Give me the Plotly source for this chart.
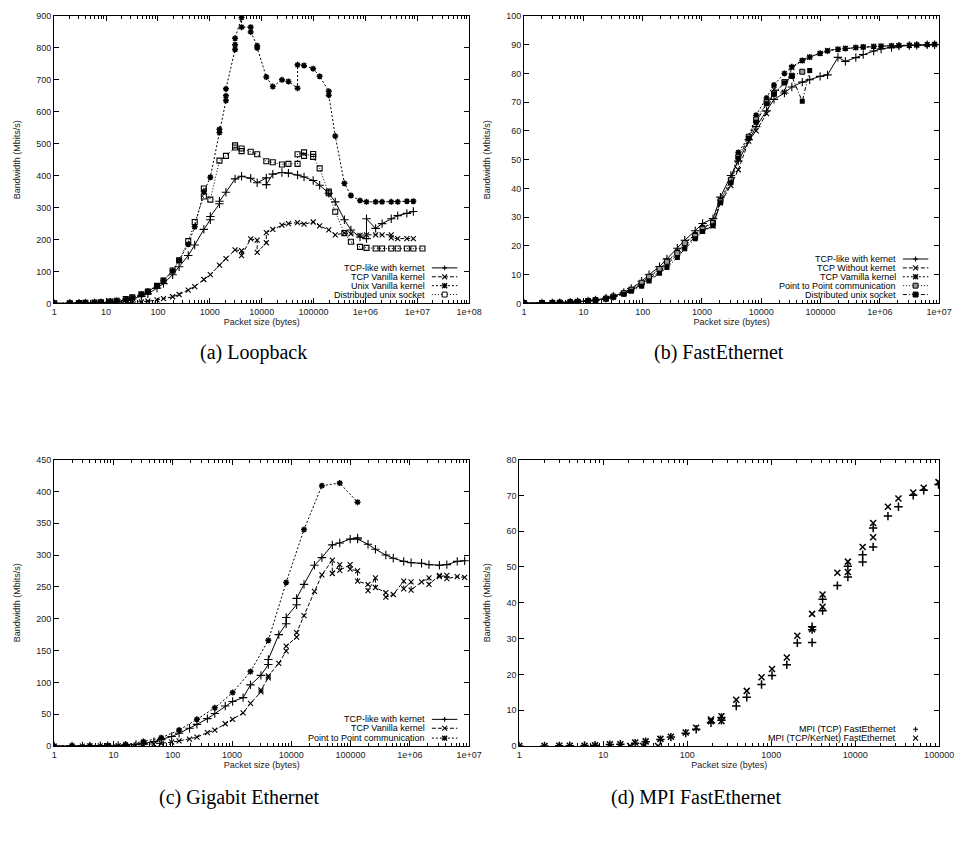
import plotly.graph_objects as go

W, H = 969, 844
OFF = 8  # page body margin
FW, FH = W - 2 * OFF, H - 2 * OFF

# ---------------- data ----------------
# (a) Loopback
a_tcplike_x = [1,2,3,4,6,8,12,16,24,32,48,64,96,128,192,256,384,512,768,1024,1024,1536,1536,2048,3072,4096,6144,8192,12288,12288,16384,24576,32768,49152,65536,98304,131072,196608,262144,393216,524288,786432,1048576,1048576,1572864,2097152,3145728,4194304,6291456,8388608]
a_tcplike_y = [0.3,0.6,0.9,1.2,1.8,2.5,4,5.5,9,14,22,30,48,62,90,115,150,183,232,262,272,312,320,348,390,398,392,378,393,372,405,410,408,402,396,385,370,345,318,262,230,208,203,265,235,250,265,275,282,288]

a_vanilla_x = [1,2,3,4,6,8,12,16,24,32,48,64,96,128,192,256,384,512,768,1024,1536,2048,3072,4096,4096,6144,8192,8192,12288,12288,16384,24576,32768,49152,65536,98304,131072,196608,262144,393216,524288,786432,1048576,1572864,2097152,3145728,3145728,4194304,6291456,8388608]
a_vanilla_y = [0,0,0.1,0.2,0.4,0.6,1,1.5,2.5,3.5,5,7,11,15,21,28,42,53,75,90,120,140,168,165,150,202,198,160,190,222,232,245,250,253,248,255,243,230,215,220,218,213,215,215,215,215,205,203,203,203]

a_unix_x = [1,2,3,4,6,8,12,16,24,32,48,64,96,128,192,256,384,512,768,1024,1536,1536,2048,2048,2048,3072,3072,3072,4096,4096,6144,6144,8192,8192,12288,16384,24576,32768,49152,49152,65536,98304,131072,196608,196608,262144,393216,524288,786432,1048576,1572864,2097152,3145728,4194304,6291456,8388608]
a_unix_y = [0.3,0.8,1.2,1.6,2.5,3.5,5.5,8,13,18,28,38,55,72,102,135,185,240,350,395,535,545,635,650,672,795,810,830,895,865,865,850,807,800,709,679,700,695,674,747,745,735,711,664,652,524,376,338,322,318,318,318,318,318,320,320]

a_dist_x = [1,2,3,4,6,8,12,16,24,32,48,64,96,128,192,256,384,512,768,768,1024,1536,2048,3072,3072,4096,4096,6144,8192,12288,16384,24576,32768,49152,49152,65536,65536,98304,98304,131072,196608,196608,262144,393216,524288,786432,1048576,1572864,2097152,3145728,4194304,6291456,8388608,12582912]
a_dist_y = [0.3,0.8,1.2,1.7,2.6,3.8,6,8.5,14,19,29,37,55,72,103,135,195,255,335,360,325,447,462,488,495,477,485,475,467,445,442,435,437,437,467,473,462,468,459,423,350,345,287,220,193,177,174,172,172,172,172,172,172,172]

# (b) FastEthernet
sizes = [1,2,3,4,6,8,12,16,24,32,48,64,96,128,192,256,384,512,768,1024,1536,2048,3072,4096,6144,8192,12288,16384,24576,32768,49152,65536,98304,131072,196608,262144,393216,524288,786432,1048576,1572864,2097152,3145728,4194304,6291456,8388608]
b_tcplike_y = [0.1,0.15,0.2,0.3,0.45,0.6,0.9,1.2,1.8,2.5,3.8,5.2,7.7,10,12.8,15.5,19.2,22,25.3,27.8,29.5,37,44.5,49.5,57,61.5,67,71,73.2,75.3,77,77.8,79,79.5,85.6,84.2,85.5,86.6,87.8,88.5,89,89.5,89.7,89.8,90,90]
b_without_y = [0.1,0.15,0.2,0.3,0.4,0.55,0.8,1.1,1.6,2.2,3.3,4.5,6.5,8.5,11,13.5,17,20,23,25.5,27,35,41,46.5,56.5,60,66,74.5,73.5,82,84.5,85.7,87,88,88.5,88.7,89,89.2,89.4,89.5,89.6,89.7,89.8,89.9,90,90]
b_vamilla_y = [0.1,0.15,0.2,0.3,0.45,0.6,0.85,1.15,1.7,2.4,3.5,4.8,7,9.2,11.8,14.5,18,21,24,26.5,28,36,43,52.5,58,65.5,71.5,76,80,82.3,84.5,85.7,87,87.8,88.4,88.7,89,89.2,89.4,89.5,89.6,89.7,89.8,89.9,90,90.2]
b_p2p_x = sizes[:31]
b_p2p_y = [0.1,0.15,0.2,0.3,0.45,0.6,0.85,1.2,1.7,2.4,3.6,4.8,7.2,9.3,12,14.5,17.5,21,23.5,26,28,35.5,43,51,58,64,70,73,77,79.2,80.6]
b_dist_x = sizes[:32]
b_dist_y = [0.1,0.15,0.2,0.3,0.4,0.55,0.8,1.1,1.6,2.2,3.2,4.2,6,7.8,10.5,12.5,16,19,22.5,25,27,35,42,50.5,57.5,63,69.5,72.8,76.7,79,70.3,81]

# (c) Gigabit Ethernet
c_tcplike_x = [1,2,3,4,6,8,12,16,24,32,48,64,96,128,192,256,384,512,768,1024,1536,2048,3072,4096,4096,6144,8192,8192,12288,12288,16384,24576,32768,49152,65536,98304,131072,131072,196608,262144,393216,524288,786432,1048576,1572864,2097152,3145728,4194304,6291456,8388608]
c_tcplike_y = [0,0,0.1,0.2,0.4,0.6,1,1.5,2.5,4,7,10,15,20,28,34,43,51,63,70,76,96,111,128,136,175,192,202,222,232,254,284,296,316,319,325,327,325,317,309,300,295,290,288,287,285,284,285,290,291]

c_vanilla_x = [1,2,3,4,6,8,12,16,24,32,48,64,96,128,192,256,384,512,768,1024,1536,2048,3072,3072,4096,4096,6144,8192,8192,12288,12288,16384,24576,32768,49152,49152,65536,65536,98304,98304,131072,131072,196608,196608,262144,262144,393216,393216,524288,786432,786432,1048576,1048576,1572864,2097152,2097152,3145728,3145728,4194304,4194304,6291456,8388608]
c_vanilla_y = [0,0,0,0.1,0.2,0.3,0.5,0.8,1.2,2,3,4,6,8,11,14,21,25,35,42,52,67,85,88,107,110,130,149,157,171,178,205,243,269,292,271,285,276,285,278,275,259,254,244,264,249,241,234,238,259,247,258,245,258,264,254,268,266,268,263,266,265]

c_p2p_x = [1,2,4,8,16,32,64,128,256,512,1024,2048,4096,8192,16384,32768,65536,131072]
c_p2p_y = [0,0.1,0.3,0.8,2.5,7,13,25,42,60,84,117,166,257,340,409,413,383]

# (d) MPI FastEthernet
d_tcp_x = [1,2,3,4,6,8,12,16,24,32,48,64,96,128,192,256,256,384,512,768,1024,1536,2048,3072,3072,3072,4096,4096,6144,8192,8192,12288,12288,16384,16384,24576,32768,49152,65536,98304]
d_tcp_y = [0,0,0.05,0.1,0.15,0.25,0.4,0.5,0.8,1.2,1.8,2.5,3.6,4.7,6.5,7.2,8.0,11.2,13.6,17.2,19.7,22.7,28.8,28.9,32.5,33.3,37.8,41.0,44.8,47.2,50.2,51.4,53.4,55.6,60.9,64.2,66.8,70.0,71.4,73.0]
d_kernet_x = [1,2,3,4,6,8,12,16,21,24,30,32,45,48,64,96,128,192,192,256,256,384,512,768,1024,1536,2048,3072,3072,4096,4096,6144,8192,8192,12288,16384,16384,24576,32768,49152,65536,98304]
d_kernet_y = [0,0,0.1,0.1,0.1,0.2,0.5,0.5,0,1.0,0,1.3,0,2.0,2.6,3.8,5.1,6.9,7.4,7.0,8.3,12.9,15.4,19.2,21.5,24.7,30.8,32.6,36.9,38.9,42.3,48.4,48.6,51.5,55.6,58.3,62.3,66.8,69.1,70.8,72.1,73.7]

tick_labels = ["1","10","100","1000","10000","100000","1e+06","1e+07","1e+08"]
tick_vals = [1,10,100,1000,10000,100000,1e6,1e7,1e8]

# ---------------- styles ----------------
DASH = {"solid": "solid", "dash": "4px,2px", "dot": "2px,2px", "fdot": "1px,2px", "dashdot": "4px,2px,1px,2px"}
MK = {
    "plus": dict(symbol="cross-thin-open", size=6, color="black", line=dict(width=1.1, color="black")),
    "x": dict(symbol="x-thin-open", size=5, color="black", line=dict(width=1.1, color="black")),
    "star": dict(symbol="asterisk-open", size=5, color="black", line=dict(width=1.5, color="black")),
    "sqo": dict(symbol="square-open", size=5, color="black", line=dict(width=1.1, color="black")),
    "sqf": dict(symbol="square", size=5, color="black", line=dict(width=0, color="black")),
    "sqg": dict(symbol="square", size=5, color="#999999", line=dict(width=1, color="black")),
}

fig = go.Figure()

def add(ax, x, y, name, dash, mk, mode="lines+markers", big=False):
    m = dict(MK[mk])
    if big:
        m = dict(m, size=6, line=dict(width=1.5, color="black"))
    fig.add_trace(go.Scatter(
        x=x, y=y, name=name, mode=mode, xaxis="x" + ax, yaxis="y" + ax,
        line=dict(color="black", width=1, dash=DASH[dash]), marker=m, showlegend=False))

add("", a_tcplike_x, a_tcplike_y, "TCP-like with kernet", "solid", "plus")
add("", a_vanilla_x, a_vanilla_y, "TCP Vanilla kernel", "dash", "x")
add("", a_unix_x, a_unix_y, "Unix Vanilla kernel", "dot", "star")
add("", a_dist_x, a_dist_y, "Distributed unix socket", "fdot", "sqo")

add("2", sizes, b_tcplike_y, "TCP-like with kernet", "solid", "plus")
add("2", sizes, b_without_y, "TCP Without kernet", "dash", "x")
add("2", sizes, b_vamilla_y, "TCP Vamilla kernel", "dot", "star")
add("2", b_p2p_x, b_p2p_y, "Point to Point communication", "fdot", "sqg")
add("2", b_dist_x, b_dist_y, "Distributed unix socket", "dashdot", "sqf")

add("3", c_tcplike_x, c_tcplike_y, "TCP-like with kernet", "solid", "plus")
add("3", c_vanilla_x, c_vanilla_y, "TCP Vanilla kernel", "dash", "x")
add("3", c_p2p_x, c_p2p_y, "Point to Point communication", "dot", "star")

add("4", d_tcp_x, d_tcp_y, "MPI (TCP) FastEthernet", "solid", "plus", mode="markers", big=True)
add("4", d_kernet_x, d_kernet_y, "MPI (TCP/KerNet) FastEthernet", "solid", "x", mode="markers", big=True)

# ---------------- axes ----------------
TF = dict(family="Liberation Sans, Arial, sans-serif", size=9, color="#222")

def xax(dom, anchor, rng):
    n = rng[1] + 1
    return dict(type="log", domain=dom, anchor=anchor, range=rng,
                tickmode="array", tickvals=tick_vals[:n], ticktext=tick_labels[:n],
                showline=True, linecolor="black", linewidth=1, mirror="ticks",
                ticks="inside", ticklen=5, tickcolor="black", showgrid=False, zeroline=False,
                minor=dict(ticks="inside", ticklen=3, tickcolor="black", dtick="D1", showgrid=False),
                tickfont=TF, title=dict(text="Packet size (bytes)", font=TF, standoff=1))

def yax(dom, anchor, rng, dt):
    return dict(domain=dom, anchor=anchor, range=rng, dtick=dt, tick0=0,
                showline=True, linecolor="black", linewidth=1, mirror="ticks",
                ticks="inside", ticklen=5, tickcolor="black", showgrid=False, zeroline=False,
                tickfont=TF, title=dict(text="Bandwidth (Mbits/s)", font=TF, standoff=14))

def fx(p):
    return (p - OFF) / FW

def fy(p):
    return 1 - (p - OFF) / FH

fig.update_layout(
    width=FW, height=FH, margin=dict(l=0, r=0, t=0, b=0),
    paper_bgcolor="white", plot_bgcolor="white",
    xaxis=xax([fx(52), fx(475)], "y", [0, 8]),
    yaxis=yax([fy(302), fy(11)], "x", [0, 900], 100),
    xaxis2=xax([fx(531), fx(954)], "y2", [0, 7]),
    yaxis2=yax([fy(302), fy(11)], "x2", [0, 100], 10),
    xaxis3=xax([fx(52), fx(475)], "y3", [0, 7]),
    yaxis3=yax([fy(750), fy(460)], "x3", [0, 450], 50),
    xaxis4=xax([fx(526), fx(954)], "y4", [0, 5]),
    yaxis4=yax([fy(750), fy(460)], "x4", [0, 80], 10),
)

# ---------------- captions ----------------
CF = dict(family="Liberation Serif, serif", size=20, color="black")
captions = [("(a) Loopback", 255, 352), ("(b) FastEthernet", 730, 352),
            ("(c) Gigabit Ethernet", 240, 802), ("(d) MPI FastEthernet", 706, 802)]
for txt, cx, cy in captions:
    fig.add_annotation(x=fx(cx), y=fy(cy), xref="paper", yref="paper", text=txt,
                       showarrow=False, xanchor="center", yanchor="middle", font=CF)

# ---------------- gnuplot-style keys (text right, sample on the right) ----------------
LF = dict(family="Liberation Sans, Arial, sans-serif", size=9, color="black")

def marker_shapes(kind, cx, cy, s=2.5):
    out = []
    def seg(x0, y0, x1, y1, w=1.1):
        out.append(dict(type="line", xref="paper", yref="paper", x0=fx(x0), y0=fy(y0),
                        x1=fx(x1), y1=fy(y1), line=dict(color="black", width=w)))
    w = 1.4 if kind == "star" else 1.1
    if kind in ("plus", "star"):
        seg(cx - s, cy, cx + s, cy, w)
        seg(cx, cy - s, cx, cy + s, w)
    if kind in ("x", "star"):
        seg(cx - s, cy - s, cx + s, cy + s, w)
        seg(cx - s, cy + s, cx + s, cy - s, w)
    if kind in ("sqo", "sqf", "sqg"):
        fill = {"sqo": "white", "sqf": "black", "sqg": "#999999"}[kind]
        out.append(dict(type="rect", xref="paper", yref="paper", x0=fx(cx - s), x1=fx(cx + s),
                        y0=fy(cy + s), y1=fy(cy - s), fillcolor=fill,
                        line=dict(color="black", width=1)))
    return out

def key(entries, xr, xs0, xs1, rows, lines=True):
    for (txt, dash, mk), ry in zip(entries, rows):
        fig.add_annotation(x=fx(xr), y=fy(ry), xref="paper", yref="paper", text=txt,
                           showarrow=False, xanchor="right", yanchor="middle", font=LF)
        if lines:
            fig.add_shape(type="line", xref="paper", yref="paper", x0=fx(xs0), x1=fx(xs1),
                          y0=fy(ry), y1=fy(ry), line=dict(color="black", width=1, dash=DASH[dash]))
        for shp in marker_shapes(mk, (xs0 + xs1) / 2, ry):
            fig.add_shape(**shp)

key([("TCP-like with kernet", "solid", "plus"), ("TCP Vanilla kernel", "dash", "x"),
     ("Unix Vanilla kernel", "dot", "star"), ("Distributed unix socket", "fdot", "sqo")],
    432, 437, 463, [266, 275, 284, 293])
key([("TCP-like with kernet", "solid", "plus"), ("TCP Without kernet", "dash", "x"),
     ("TCP Vamilla kernel", "dot", "star"), ("Point to Point communication", "fdot", "sqg"),
     ("Distributed unix socket", "dashdot", "sqf")],
    912, 917, 943, [257, 266, 275, 284, 293])
key([("TCP-like with kernet", "solid", "plus"), ("TCP Vanilla kernel", "dash", "x"),
     ("Point to Point communication", "dot", "star")],
    432, 437, 463, [723, 732, 742])
key([("MPI (TCP) FastEthernet", "solid", "plus"), ("MPI (TCP/KerNet) FastEthernet", "solid", "x")],
    912, 921, 939, [733, 742], lines=False)

fig.write_html("out.html")
